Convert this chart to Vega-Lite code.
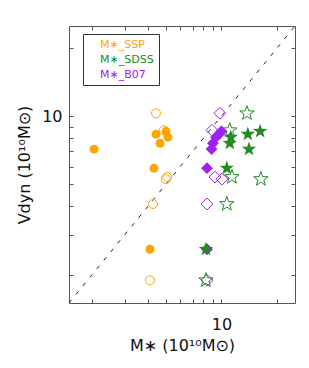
{
  "$schema": "https://vega.github.io/schema/vega-lite/v6.json",
  "width": 226,
  "height": 277,
  "autosize": "none",
  "padding": {"left": 69, "top": 26, "right": 14, "bottom": 65},
  "background": "white",
  "config": {
    "view": {"stroke": null},
    "font": "DejaVu Sans",
    "axis": {
      "domainColor": "#555",
      "tickColor": "#555",
      "labelColor": "#111",
      "titleColor": "#111",
      "labelFont": "DejaVu Sans",
      "titleFont": "DejaVu Sans",
      "labelFontSize": 16,
      "titleFontSize": 16,
      "titleFontWeight": "normal",
      "grid": false,
      "labelOverlap": false,
      "labelBound": false,
      "labelFlush": false
    }
  },
  "data": {
    "values": [
      {"method": "M∗_SSP", "fill": "open", "mstar": 4.43, "vdyn": 10.3},
      {"method": "M∗_SSP", "fill": "open", "mstar": 4.89, "vdyn": 8.67},
      {"method": "M∗_SSP", "fill": "open", "mstar": 5.1, "vdyn": 5.39},
      {"method": "M∗_SSP", "fill": "open", "mstar": 5.0, "vdyn": 5.28},
      {"method": "M∗_SSP", "fill": "open", "mstar": 4.27, "vdyn": 4.1},
      {"method": "M∗_SSP", "fill": "open", "mstar": 4.11, "vdyn": 1.89},
      {"method": "M∗_B07", "fill": "open", "mstar": 9.82, "vdyn": 10.3},
      {"method": "M∗_B07", "fill": "open", "mstar": 8.89, "vdyn": 8.67},
      {"method": "M∗_B07", "fill": "open", "mstar": 9.23, "vdyn": 5.39},
      {"method": "M∗_B07", "fill": "open", "mstar": 10.07, "vdyn": 5.28},
      {"method": "M∗_B07", "fill": "open", "mstar": 8.36, "vdyn": 4.1},
      {"method": "M∗_B07", "fill": "open", "mstar": 8.36, "vdyn": 1.89},
      {"method": "M∗_SDSS", "fill": "open", "mstar": 13.75, "vdyn": 10.3},
      {"method": "M∗_SDSS", "fill": "open", "mstar": 11.1, "vdyn": 8.67},
      {"method": "M∗_SDSS", "fill": "open", "mstar": 11.4, "vdyn": 5.39},
      {"method": "M∗_SDSS", "fill": "open", "mstar": 16.35, "vdyn": 5.28},
      {"method": "M∗_SDSS", "fill": "open", "mstar": 10.7, "vdyn": 4.1},
      {"method": "M∗_SDSS", "fill": "open", "mstar": 8.25, "vdyn": 1.89},
      {"method": "M∗_SSP", "fill": "filled", "mstar": 5.02, "vdyn": 8.58},
      {"method": "M∗_SSP", "fill": "filled", "mstar": 4.43, "vdyn": 8.33},
      {"method": "M∗_SSP", "fill": "filled", "mstar": 5.14, "vdyn": 8.08},
      {"method": "M∗_SSP", "fill": "filled", "mstar": 4.66, "vdyn": 7.6},
      {"method": "M∗_SSP", "fill": "filled", "mstar": 2.05, "vdyn": 7.16},
      {"method": "M∗_SSP", "fill": "filled", "mstar": 4.32, "vdyn": 5.9},
      {"method": "M∗_SSP", "fill": "filled", "mstar": 4.11, "vdyn": 2.59},
      {"method": "M∗_B07", "fill": "filled", "mstar": 10.0, "vdyn": 8.58},
      {"method": "M∗_B07", "fill": "filled", "mstar": 9.7, "vdyn": 8.33},
      {"method": "M∗_B07", "fill": "filled", "mstar": 9.35, "vdyn": 8.08},
      {"method": "M∗_B07", "fill": "filled", "mstar": 9.0, "vdyn": 7.6},
      {"method": "M∗_B07", "fill": "filled", "mstar": 8.85, "vdyn": 7.16},
      {"method": "M∗_B07", "fill": "filled", "mstar": 8.36, "vdyn": 5.9},
      {"method": "M∗_B07", "fill": "filled", "mstar": 8.36, "vdyn": 2.59},
      {"method": "M∗_SDSS", "fill": "filled", "mstar": 16.2, "vdyn": 8.58},
      {"method": "M∗_SDSS", "fill": "filled", "mstar": 13.9, "vdyn": 8.33},
      {"method": "M∗_SDSS", "fill": "filled", "mstar": 11.25, "vdyn": 8.08},
      {"method": "M∗_SDSS", "fill": "filled", "mstar": 11.1, "vdyn": 7.6},
      {"method": "M∗_SDSS", "fill": "filled", "mstar": 14.1, "vdyn": 7.16},
      {"method": "M∗_SDSS", "fill": "filled", "mstar": 10.7, "vdyn": 5.9},
      {"method": "M∗_SDSS", "fill": "filled", "mstar": 8.25, "vdyn": 2.59}
    ]
  },
  "encoding": {
    "x": {
      "field": "mstar", "type": "quantitative",
      "scale": {"type": "log", "domain": [1.5, 25], "nice": false, "zero": false},
      "axis": null
    },
    "y": {
      "field": "vdyn", "type": "quantitative",
      "scale": {"type": "log", "domain": [1.5, 25], "nice": false, "zero": false},
      "axis": null
    },
    "color": {
      "field": "method", "type": "nominal",
      "scale": {"domain": ["M∗_SSP", "M∗_SDSS", "M∗_B07"], "range": ["#FFA500", "#228B22", "#A020F0"]},
      "legend": {
        "orient": "none", "legendX": 14, "legendY": 8, "title": null,
        "padding": 5, "strokeColor": "#333", "fillColor": "white",
        "symbolOpacity": 0, "symbolStrokeWidth": 0, "symbolSize": 64,
        "labelOffset": 1, "rowPadding": 3, "labelFontSize": 11, "labelFont": "DejaVu Sans",
        "encode": {"labels": {"update": {"fill": {"scale": "color", "field": "value"}}}}
      }
    }
  },
  "layer": [
    {
      "data": {"values": [{"mstar": 1.5, "vdyn": 1.5}, {"mstar": 25, "vdyn": 25}]},
      "mark": {"type": "line", "strokeWidth": 1, "strokeDash": [4, 7], "clip": true},
      "encoding": {
        "color": {"value": "#222"},
        "x": {
          "field": "mstar", "type": "quantitative",
          "axis": {
            "orient": "bottom",
            "values": [2, 3, 4, 5, 6, 7, 8, 9, 10, 20],
            "labelExpr": "datum.value == 10 ? '10' : ''",
            "tickSize": -4,
            "labelPadding": 17,
            "title": "M∗  (10¹⁰M⊙)",
            "titlePadding": 5
          }
        },
        "y": {
          "field": "vdyn", "type": "quantitative",
          "axis": {
            "orient": "left",
            "values": [2, 3, 4, 5, 6, 7, 8, 9, 10, 20],
            "labelExpr": "datum.value == 10 ? '10' : ''",
            "tickSize": -4,
            "labelPadding": 11,
            "title": "Vdyn  (10¹⁰M⊙)",
            "titlePadding": 9
          }
        }
      }
    },
    {
      "transform": [{"filter": "datum.fill == 'open' && datum.method == 'M∗_SSP'"}],
      "mark": {"type": "point", "shape": "circle", "size": 80, "filled": false, "strokeWidth": 1, "opacity": 1},
      "encoding": {
        "x": {
          "field": "mstar", "type": "quantitative",
          "axis": {"orient": "top", "values": [2, 3, 4, 5, 6, 7, 8, 9, 10, 20], "labels": false, "tickSize": -4, "title": null}
        },
        "y": {
          "field": "vdyn", "type": "quantitative",
          "axis": {"orient": "right", "values": [2, 3, 4, 5, 6, 7, 8, 9, 10, 20], "labels": false, "tickSize": -4, "title": null}
        }
      }
    },
    {
      "transform": [{"filter": "datum.fill == 'open' && datum.method == 'M∗_B07'"}],
      "mark": {"type": "point", "shape": "diamond", "size": 140, "filled": false, "strokeWidth": 1, "opacity": 1}
    },
    {
      "transform": [{"filter": "datum.fill == 'open' && datum.method == 'M∗_SDSS'"}],
      "mark": {"type": "point", "shape": "M0,-1L0.235,-0.324L0.951,-0.309L0.38,0.124L0.588,0.809L0,0.4L-0.588,0.809L-0.38,0.124L-0.951,-0.309L-0.235,-0.324Z", "size": 230, "filled": false, "strokeWidth": 1, "opacity": 1}
    },
    {
      "transform": [{"filter": "datum.fill == 'filled' && datum.method == 'M∗_SSP'"}],
      "mark": {"type": "point", "shape": "circle", "size": 80, "filled": true, "opacity": 1}
    },
    {
      "transform": [{"filter": "datum.fill == 'filled' && datum.method == 'M∗_B07'"}],
      "mark": {"type": "point", "shape": "diamond", "size": 140, "filled": true, "opacity": 1}
    },
    {
      "transform": [{"filter": "datum.fill == 'filled' && datum.method == 'M∗_SDSS'"}],
      "mark": {"type": "point", "shape": "M0,-1L0.235,-0.324L0.951,-0.309L0.38,0.124L0.588,0.809L0,0.4L-0.588,0.809L-0.38,0.124L-0.951,-0.309L-0.235,-0.324Z", "size": 230, "filled": true, "opacity": 1}
    }
  ]
}
